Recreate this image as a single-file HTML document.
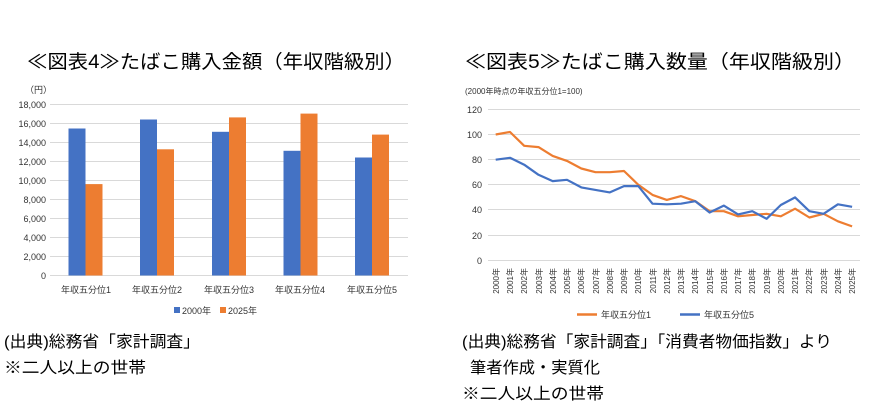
<!DOCTYPE html>
<html><head><meta charset="utf-8"><style>
body{margin:0;background:#fff;}
svg{display:block;font-family:"Liberation Sans","Noto Sans CJK JP",sans-serif;}
</style></head><body>
<svg width="877" height="409" viewBox="0 0 877 409">
<rect width="877" height="409" fill="#fff"/>
<text x="27" y="68" font-size="19" textLength="378" lengthAdjust="spacingAndGlyphs" fill="#000">≪図表4≫たばこ購入金額（年収階級別）</text>
<text x="465" y="68" font-size="19" textLength="390" lengthAdjust="spacingAndGlyphs" fill="#000">≪図表5≫たばこ購入数量（年収階級別）</text>

<text x="25" y="93" font-size="9" fill="#333">（円）</text>
<g stroke="#d9d9d9" stroke-width="1">
<line x1="50" x2="408" y1="104.5" y2="104.5"/><line x1="50" x2="408" y1="123.5" y2="123.5"/>
<line x1="50" x2="408" y1="142.5" y2="142.5"/><line x1="50" x2="408" y1="161.5" y2="161.5"/>
<line x1="50" x2="408" y1="180.5" y2="180.5"/><line x1="50" x2="408" y1="199.5" y2="199.5"/>
<line x1="50" x2="408" y1="218.5" y2="218.5"/><line x1="50" x2="408" y1="237.5" y2="237.5"/>
<line x1="50" x2="408" y1="256.5" y2="256.5"/><line x1="50" x2="408" y1="275.5" y2="275.5"/>
</g>
<g font-size="9" fill="#333" text-anchor="end">
<text x="46" y="108">18,000</text><text x="46" y="127">16,000</text><text x="46" y="146">14,000</text>
<text x="46" y="165">12,000</text><text x="46" y="184">10,000</text><text x="46" y="203">8,000</text>
<text x="46" y="222">6,000</text><text x="46" y="241">4,000</text><text x="46" y="260">2,000</text>
<text x="46" y="279">0</text>
</g>
<g fill="#4472c4">
<rect x="68.5" y="128.5" width="17" height="147"/>
<rect x="140" y="119.5" width="17" height="156"/>
<rect x="212" y="131.8" width="17" height="143.7"/>
<rect x="283.5" y="150.8" width="17" height="124.7"/>
<rect x="355" y="157.5" width="17" height="118"/>
</g>
<g fill="#ed7d31">
<rect x="85.5" y="184.1" width="17" height="91.4"/>
<rect x="157" y="149.3" width="17" height="126.2"/>
<rect x="229" y="117.4" width="17" height="158.1"/>
<rect x="300.5" y="113.6" width="17" height="161.9"/>
<rect x="372" y="134.6" width="17" height="140.9"/>
</g>
<g font-size="9" fill="#333" text-anchor="middle">
<text x="86" y="293">年収五分位1</text><text x="157" y="293">年収五分位2</text><text x="229" y="293">年収五分位3</text>
<text x="300" y="293">年収五分位4</text><text x="372" y="293">年収五分位5</text>
</g>
<rect x="174" y="307" width="6" height="6" fill="#4472c4"/>
<text x="182" y="314" font-size="9" fill="#333">2000年</text>
<rect x="220" y="307" width="6" height="6" fill="#ed7d31"/>
<text x="228" y="314" font-size="9" fill="#333">2025年</text>

<text x="465" y="94" font-size="8" fill="#333">(2000年時点の年収五分位1=100)</text>
<g stroke="#d9d9d9" stroke-width="1">
<line x1="488" x2="860" y1="109.5" y2="109.5"/><line x1="488" x2="860" y1="134.5" y2="134.5"/>
<line x1="488" x2="860" y1="159.5" y2="159.5"/><line x1="488" x2="860" y1="184.5" y2="184.5"/>
<line x1="488" x2="860" y1="209.5" y2="209.5"/><line x1="488" x2="860" y1="235.5" y2="235.5"/>
<line x1="488" x2="860" y1="260.5" y2="260.5"/>
</g>
<g font-size="9" fill="#333" text-anchor="end">
<text x="482" y="113">120</text><text x="482" y="138">100</text><text x="482" y="163">80</text>
<text x="482" y="188">60</text><text x="482" y="213">40</text><text x="482" y="239">20</text><text x="482" y="264">0</text>
</g>
<polyline fill="none" stroke="#ed7d31" stroke-width="2.2" stroke-linejoin="round" points="495.7,134.5 510,132 524.2,145.8 538.5,147.1 552.7,155.9 567,160.9 581.3,168.5 595.5,172.2 609.8,172.2 624,171 638.3,184.8 652.5,194.9 666.8,199.9 681,196.1 695.3,201.2 709.6,211.2 723.8,211.2 738.1,216.3 752.3,215 766.6,213.8 780.8,216.3 795.1,208.7 809.4,217.5 823.6,213.8 837.9,221.3 852.1,226.4"/>
<polyline fill="none" stroke="#4472c4" stroke-width="2.2" stroke-linejoin="round" points="495.7,159.7 510,157.8 524.2,164.7 538.5,174.8 552.7,181.1 567,179.8 581.3,187.4 595.5,189.9 609.8,192.4 624,186.1 638.3,186.1 652.5,203.7 666.8,204.3 681,203.7 695.3,201.2 709.6,212.5 723.8,205.6 738.1,214.4 752.3,211.2 766.6,218.8 780.8,205 795.1,197.4 809.4,211.2 823.6,213.8 837.9,204.3 852.1,206.8"/>
<g font-size="8" fill="#333" text-anchor="end">
<text transform="translate(499,268) rotate(-90)">2000年</text><text transform="translate(513,268) rotate(-90)">2001年</text>
<text transform="translate(527,268) rotate(-90)">2002年</text><text transform="translate(542,268) rotate(-90)">2003年</text>
<text transform="translate(556,268) rotate(-90)">2004年</text><text transform="translate(570,268) rotate(-90)">2005年</text>
<text transform="translate(584,268) rotate(-90)">2006年</text><text transform="translate(599,268) rotate(-90)">2007年</text>
<text transform="translate(613,268) rotate(-90)">2008年</text><text transform="translate(627,268) rotate(-90)">2009年</text>
<text transform="translate(641,268) rotate(-90)">2010年</text><text transform="translate(656,268) rotate(-90)">2011年</text>
<text transform="translate(670,268) rotate(-90)">2012年</text><text transform="translate(684,268) rotate(-90)">2013年</text>
<text transform="translate(698,268) rotate(-90)">2014年</text><text transform="translate(713,268) rotate(-90)">2015年</text>
<text transform="translate(727,268) rotate(-90)">2016年</text><text transform="translate(741,268) rotate(-90)">2017年</text>
<text transform="translate(755,268) rotate(-90)">2018年</text><text transform="translate(770,268) rotate(-90)">2019年</text>
<text transform="translate(784,268) rotate(-90)">2020年</text><text transform="translate(798,268) rotate(-90)">2021年</text>
<text transform="translate(812,268) rotate(-90)">2022年</text><text transform="translate(827,268) rotate(-90)">2023年</text>
<text transform="translate(841,268) rotate(-90)">2024年</text><text transform="translate(855,268) rotate(-90)">2025年</text>
</g>
<line x1="577" x2="597" y1="314.5" y2="314.5" stroke="#ed7d31" stroke-width="2.5"/>
<text x="601" y="318" font-size="9" fill="#333">年収五分位1</text>
<line x1="680" x2="700" y1="314.5" y2="314.5" stroke="#4472c4" stroke-width="2.5"/>
<text x="704" y="318" font-size="9" fill="#333">年収五分位5</text>

<g font-size="16" fill="#000">
<text x="4" y="347" textLength="196" lengthAdjust="spacingAndGlyphs">(出典)総務省「家計調査」</text>
<text x="4" y="373" textLength="142" lengthAdjust="spacingAndGlyphs">※二人以上の世帯</text>
<text x="462" y="347" textLength="370" lengthAdjust="spacingAndGlyphs">(出典)総務省「家計調査」「消費者物価指数」より</text>
<text x="470" y="373" textLength="130" lengthAdjust="spacingAndGlyphs">筆者作成・実質化</text>
<text x="462" y="399" textLength="142" lengthAdjust="spacingAndGlyphs">※二人以上の世帯</text>
</g>
</svg>
</body></html>
